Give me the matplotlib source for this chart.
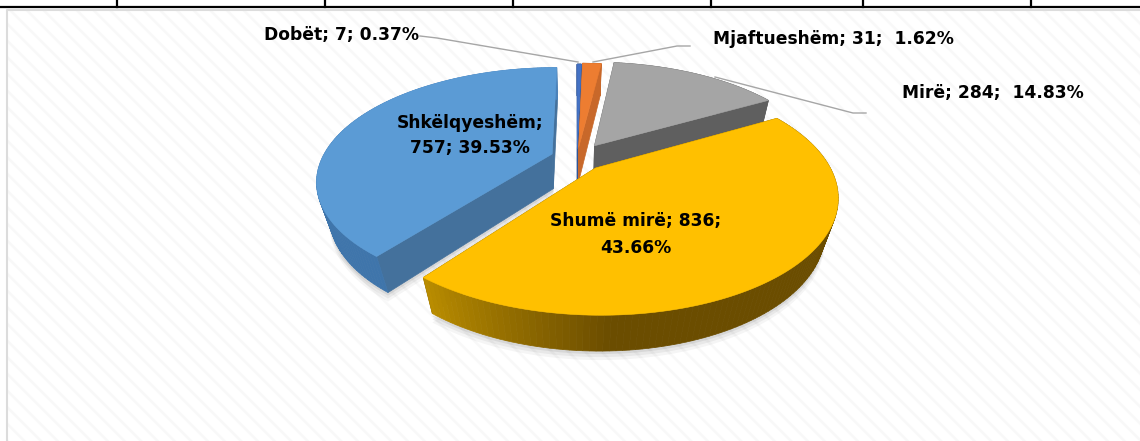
import matplotlib
matplotlib.use('Agg')
import matplotlib.pyplot as plt
from matplotlib.colors import to_rgb
from matplotlib.patches import Polygon, Rectangle
import numpy as np

categories = ['Dobët', 'Mjaftueshëm', 'Mirë', 'Shumë mirë', 'Shkëlqyeshëm']
values = [7, 31, 284, 836, 757]
labels = ['Dobët; 7; 0.37%', 'Mjaftueshëm; 31;  1.62%', 'Mirë; 284;  14.83%',
          'Shumë mirë; 836;\n43.66%', 'Shkëlqyeshëm;\n757; 39.53%']

top_colors = ['#4472c4', '#ed7d31', '#a5a5a5', '#ffc000', '#5b9bd5']
cut_colors = ['#2f5597', '#c8682a', '#5f5f5f', '#7a5a00', '#44719c']
# rim colour ramps, start angle to end angle
rim_ramps = [['#2f5597', '#2f5597'], ['#c8682a', '#c8682a'], ['#5f5f5f', '#5f5f5f'],
             ['#6b4d00', '#6b4d00', '#6b4d00', '#6b4d00', '#b98c00'],
             ['#3f75ab', '#3f75ab', '#4a82bb', '#4a82bb']]
explode = [0.085, 0.10, 0.14, 0.12, 0.115]

cx, cy = 577, 158
rx, ry = 230, 108
persp = 0.23
depth = 36.5
shrink = 0.05


# disc coords to picture coords, z=0 top of the pie z=1 bottom
def project(u, v, z=0):
    w = 1 + persp * v + shrink * z
    return cx + rx * u / w, cy - (ry * v - depth * z) / w


def ramp(cols, t):
    cols = np.array([to_rgb(c) for c in cols])
    pos = t * (len(cols) - 1)
    i = min(int(pos), len(cols) - 2)
    return cols[i] + (cols[i + 1] - cols[i]) * (pos - i)


fig = plt.figure(figsize=(11.4, 4.41), dpi=100)
ax = fig.add_axes([0, 0, 1, 1])
ax.set_xlim(0, 1140)
ax.set_ylim(441, 0)
ax.axis('off')

# table bits above the chart
ax.plot([0, 1140], [7, 7], color='black', lw=1.6, zorder=1)
for x in [117, 325, 513, 711, 863, 1031]:
    ax.plot([x, x], [0, 7], color='black', lw=1.6, zorder=1)

# chart area with the faint stripes
plt.rcParams['hatch.linewidth'] = 1.8
ax.add_patch(Rectangle((7, 10), 1140, 440, facecolor='white', edgecolor='#f8f8f8',
                       hatch='\\\\', lw=0, zorder=1))
ax.plot([7, 7, 1140], [441, 10, 10], color='#dcdcdc', lw=1.5, zorder=2)

fractions = np.array(values) / sum(values)
edges = np.concatenate([[0], np.cumsum(fractions)]) * 2 * np.pi


def slice_points(i, a):
    mid = (edges[i] + edges[i + 1]) / 2
    return np.sin(a) + explode[i] * np.sin(mid), np.cos(a) + explode[i] * np.cos(mid)


def apex(i):
    mid = (edges[i] + edges[i + 1]) / 2
    return explode[i] * np.sin(mid), explode[i] * np.cos(mid)


# soft shadow under the yellow and blue slices
for i in [4, 3]:
    angs = np.linspace(edges[i], edges[i + 1], 80)
    for grow, alpha in [(9, 0.04), (6, 0.05), (3, 0.07)]:
        u, v = slice_points(i, angs)
        pts = [project(a, b, 1) for a, b in zip(u, v)] + [project(*apex(i), 1)]
        pts = [(x, y + grow) for x, y in pts]
        ax.add_patch(Polygon(pts, facecolor='black', alpha=alpha, lw=0, zorder=3))

# back slices first so the front ones sit on top
order = [0, 1, 2, 4, 3]
for n, i in enumerate(order):
    z = 4 + n
    a0, a1 = edges[i], edges[i + 1]
    angs = np.linspace(a0, a1, 120)
    u, v = slice_points(i, angs)
    au, av = apex(i)

    # cut faces
    for a in [a1, a0]:
        eu, ev = slice_points(i, a)
        face = [project(au, av), project(eu, ev), project(eu, ev, 1), project(au, av, 1)]
        ax.add_patch(Polygon(face, facecolor=cut_colors[i], edgecolor=cut_colors[i], lw=0.5, zorder=z))

    # rim, lots of small quads for the gradient
    for j in range(len(angs) - 1):
        quad = [project(u[j], v[j]), project(u[j + 1], v[j + 1]),
                project(u[j + 1], v[j + 1], 1), project(u[j], v[j], 1)]
        col = ramp(rim_ramps[i], j / (len(angs) - 2))
        ax.add_patch(Polygon(quad, facecolor=col, edgecolor=col, lw=0.5, zorder=z))

    # top of the slice
    top = [project(au, av)] + [project(a, b) for a, b in zip(u, v)]
    ax.add_patch(Polygon(top, facecolor=top_colors[i], edgecolor=top_colors[i], lw=0.4, zorder=z + 0.5))

# leader lines
leader = dict(color='#a6a6a6', lw=1, zorder=20)
ax.plot([420, 437, 578], [36, 38, 62], **leader)
ax.plot([690, 677, 593], [46, 46, 62], **leader)
ax.plot([866, 853, 715], [113, 113, 77], **leader)

font = dict(family='DejaVu Sans', fontweight='bold', fontsize=12.3, color='black', zorder=21)
ax.text(264, 35, labels[0], ha='left', va='center', **font)
ax.text(713, 39, labels[1], ha='left', va='center', **font)
ax.text(902, 93, labels[2], ha='left', va='center', **font)
ax.text(636, 234.5, labels[3], ha='center', va='center', linespacing=1.6, **font)
ax.text(470, 135.5, labels[4], ha='center', va='center', linespacing=1.5, **font)

fig.savefig('out.png', dpi=100)
